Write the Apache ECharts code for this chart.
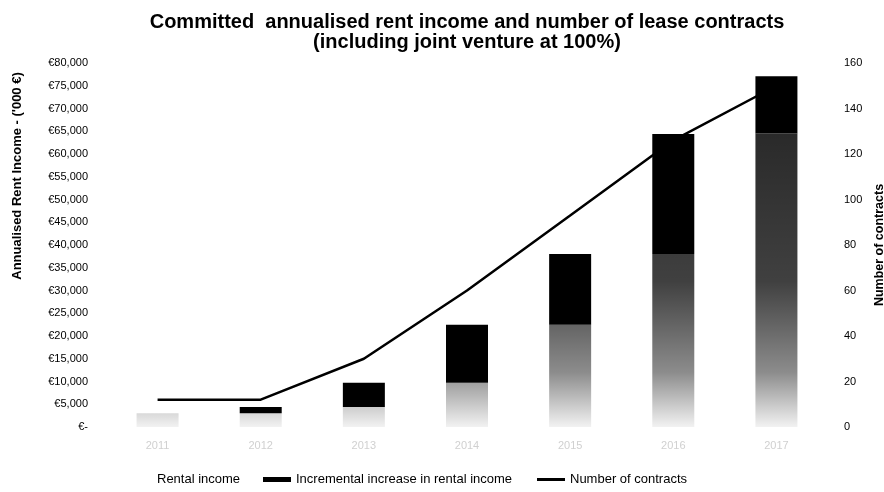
<!DOCTYPE html>
<html>
<head>
<meta charset="utf-8">
<script src="https://cdn.jsdelivr.net/npm/echarts@6/dist/echarts.min.js"></script>
<style>
  html, body { margin: 0; padding: 0; background: #fff; }
  #chart { width: 884px; height: 492px; }
</style>
</head>
<body>
<div id="chart"></div>
<script>
// Years on the category axis
const years = ['2011', '2012', '2013', '2014', '2015', '2016', '2017'];
// Committed annualised rent income, '000 €
const rentalIncome = [3000, 3000, 4400, 9700, 22500, 38000, 64500];
const incrementalIncrease = [0, 1400, 5300, 12800, 15500, 26400, 12600];
// Number of lease contracts
const contracts = [12, 12, 30, 60, 93, 126, 150];

const font = 'Liberation Sans, Arial, sans-serif';
const gridTop = 63, gridBottom = 65, chartH = 492;

// Stippled base: dense high up, thinning out toward the category axis
const stipple = {
  type: 'linear', global: true,
  x: 0, y: gridTop, x2: 0, y2: chartH - gridBottom,
  colorStops: [
    { offset: 0, color: 'rgba(0,0,0,0.88)' },
    { offset: 0.6, color: 'rgba(0,0,0,0.75)' },
    { offset: 0.85, color: 'rgba(0,0,0,0.45)' },
    { offset: 1, color: 'rgba(0,0,0,0.05)' }
  ]
};

function euro(v) {
  if (v === 0) return '€-';
  return '€' + v.toLocaleString('en-US');
}

const legendText = { fontFamily: font, fontSize: 13, color: '#000' };

const chart = echarts.init(document.getElementById('chart'), null, { renderer: 'canvas' });
chart.setOption({
  animation: false,
  backgroundColor: '#fff',
  title: {
    text: 'Committed  annualised rent income and number of lease contracts\n(including joint venture at 100%)',
    left: 462, top: 7, textAlign: 'center',
    textStyle: { fontFamily: font, fontSize: 20, fontWeight: 'bold', color: '#000', lineHeight: 20 }
  },
  legend: [
    {
      bottom: 1, left: 119, itemWidth: 28, itemHeight: 5, textStyle: legendText,
      data: [{ name: 'Rental income', icon: 'rect', itemStyle: { color: 'rgba(0,0,0,0)' } }]
    },
    {
      bottom: 1, left: 258, itemWidth: 28, itemHeight: 5, textStyle: legendText,
      data: [{ name: 'Incremental increase in rental income', icon: 'rect' }]
    },
    {
      bottom: 1, left: 532, itemWidth: 28, itemHeight: 3, textStyle: legendText,
      data: [{ name: 'Number of contracts', icon: 'rect' }]
    }
  ],
  grid: { left: 106, right: 56, top: gridTop, bottom: gridBottom, outerBoundsMode: 'none' },
  xAxis: {
    type: 'category', data: years,
    axisLine: { show: false }, axisTick: { show: false },
    axisLabel: { color: '#d0d0d0', fontFamily: font, fontSize: 11, margin: 13 }
  },
  yAxis: [
    {
      type: 'value', min: 0, max: 80000, interval: 5000,
      axisLine: { show: false }, axisTick: { show: false }, splitLine: { show: false },
      axisLabel: { formatter: euro, fontFamily: font, fontSize: 11, color: '#000', margin: 18 }
    },
    {
      type: 'value', min: 0, max: 160, interval: 20,
      name: 'Number of contracts', nameLocation: 'middle', nameGap: 43,
      nameRotate: 90,
      nameTextStyle: { fontFamily: font, fontSize: 12.5, fontWeight: 'bold', color: '#000' },
      axisLine: { show: false }, axisTick: { show: false }, splitLine: { show: false },
      axisLabel: { fontFamily: font, fontSize: 11, color: '#000', margin: 16 }
    }
  ],
  graphic: [
    {
      type: 'text', x: 17, y: 176, rotation: Math.PI / 2,
      style: {
        text: "Annualised Rent Income - ('000 €)",
        font: 'bold 13px ' + font, fill: '#000',
        textAlign: 'center', textVerticalAlign: 'middle'
      }
    }
  ],
  series: [
    {
      name: 'Rental income', type: 'bar', stack: 'rent', barWidth: 42,
      data: rentalIncome, itemStyle: { color: stipple }
    },
    {
      name: 'Incremental increase in rental income', type: 'bar', stack: 'rent', barWidth: 42,
      data: incrementalIncrease, itemStyle: { color: '#000' }
    },
    {
      name: 'Number of contracts', type: 'line', yAxisIndex: 1,
      data: contracts, symbol: 'none',
      lineStyle: { color: '#000', width: 2.5 }, itemStyle: { color: '#000' }
    }
  ]
});
</script>
</body>
</html>
